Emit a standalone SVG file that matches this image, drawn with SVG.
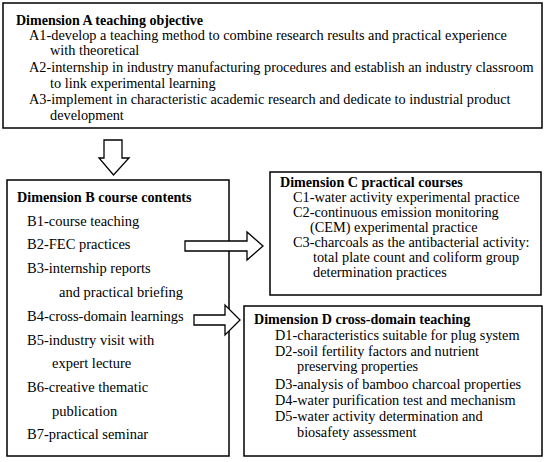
<svg xmlns="http://www.w3.org/2000/svg" width="550" height="462" viewBox="0 0 550 462">
<style>
.box{fill:#fff;stroke:#000;stroke-width:1.5}
.arr{fill:#fff;stroke:#000;stroke-width:1.3;stroke-linejoin:miter}
text{font-family:"Liberation Serif","Times New Roman",serif;fill:#000}
.t{font-weight:bold;font-size:14px}
.a{font-size:14.3px}
.b{font-size:14.5px}
.tb{font-weight:bold;font-size:14.2px}
.c{font-size:14.3px}
.tc{font-weight:bold;font-size:14.1px}
</style>
<rect width="550" height="462" fill="#fff"/>
<g id="nodeA">
<rect class="box" x="3" y="3" width="539" height="125"/>
<text class="t" x="16" y="25">Dimension A teaching objective</text>
<text class="a" x="29" y="40">A1-develop a teaching method to combine research results and practical experience</text>
<text class="a" x="50" y="55">with theoretical</text>
<text class="a" x="29" y="72">A2-internship in industry manufacturing procedures and establish an industry classroom</text>
<text class="a" x="50" y="88">to link experimental learning</text>
<text class="a" x="29" y="104">A3-implement in characteristic academic research and dedicate to industrial product</text>
<text class="a" x="50" y="120">development</text>
</g>
<g id="nodeB">
<rect class="box" x="7" y="180" width="222" height="276"/>
<text class="tb" x="17" y="202">Dimension B course contents</text>
<text class="b" x="27" y="226">B1-course teaching</text>
<text class="b" x="27" y="249">B2-FEC practices</text>
<text class="b" x="27" y="273">B3-internship reports</text>
<text class="b" x="59" y="297">and practical briefing</text>
<text class="b" x="27" y="321">B4-cross-domain learnings</text>
<text class="b" x="27" y="345">B5-industry visit with</text>
<text class="b" x="52" y="368">expert lecture</text>
<text class="b" x="27" y="392">B6-creative thematic</text>
<text class="b" x="52" y="416">publication</text>
<text class="b" x="27" y="439">B7-practical seminar</text>
</g>
<g id="nodeC">
<rect class="box" x="270" y="172" width="271" height="123"/>
<text class="tc" x="280" y="187">Dimension C practical courses</text>
<text class="c" x="293" y="202">C1-water activity experimental practice</text>
<text class="c" x="293" y="217">C2-continuous emission monitoring</text>
<text class="c" x="310" y="232">(CEM) experimental practice</text>
<text class="c" x="293" y="247">C3-charcoals as the antibacterial activity:</text>
<text class="c" x="313" y="262">total plate count and coliform group</text>
<text class="c" x="313" y="277">determination practices</text>
</g>
<g id="nodeD">
<rect class="box" x="244" y="306" width="298" height="150"/>
<text class="tc" x="254" y="324">Dimension D cross-domain teaching</text>
<text class="c" x="275" y="340">D1-characteristics suitable for plug system</text>
<text class="c" x="275" y="356">D2-soil fertility factors and nutrient</text>
<text class="c" x="297" y="371">preserving properties</text>
<text class="c" x="275" y="389">D3-analysis of bamboo charcoal properties</text>
<text class="c" x="275" y="405">D4-water purification test and mechanism</text>
<text class="c" x="275" y="421">D5-water activity determination and</text>
<text class="c" x="297" y="437">biosafety assessment</text>
</g>
<g id="connectors">
<polygon class="arr" points="104,140 122,140 122,158 129,158 113.5,175 99,158 104,158"/>
<polygon class="arr" points="185,241 247,241 247,232 263,246 247,260 247,251 185,251"/>
<polygon class="arr" points="194,315 225,315 225,305 240,320 225,335 225,325 194,325"/>
</g>
</svg>
